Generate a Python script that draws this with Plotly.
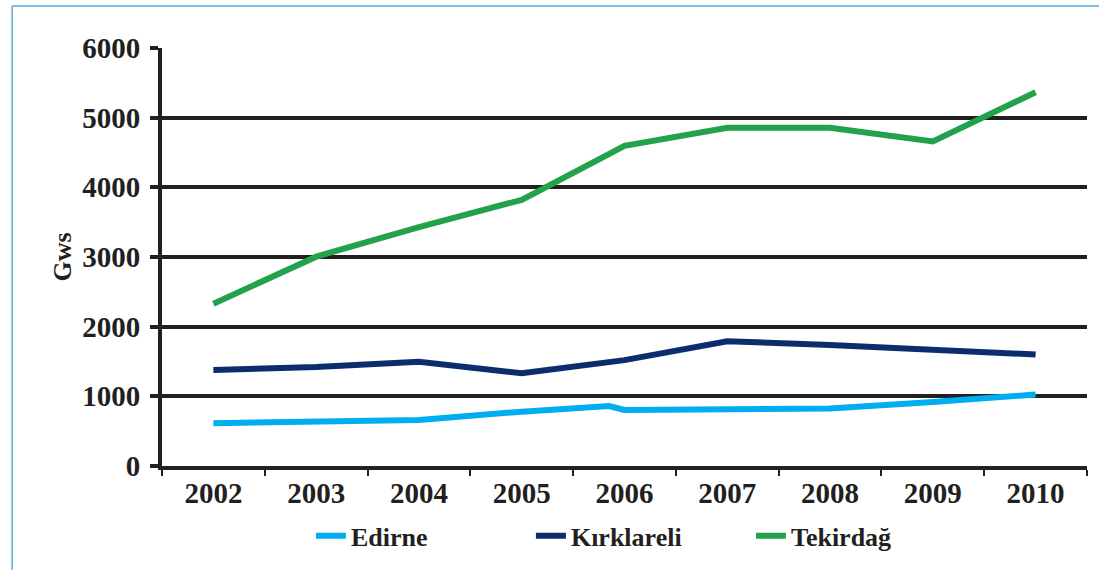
import plotly.graph_objects as go

# Annual values (Gws)
years = [2002, 2003, 2004, 2005, 2006, 2007, 2008, 2009, 2010]

# Edirne has a small bump just before 2006 in the source chart
edirne_x = [2002, 2003, 2004, 2005, 2005.85, 2006, 2007, 2008, 2009, 2010]
edirne = [615, 630, 660, 780, 860, 805, 815, 825, 920, 1025]

kirklareli = [1378, 1420, 1496, 1330, 1520, 1790, 1737, 1670, 1600]
tekirdag = [2330, 3005, 3430, 3820, 4596, 4855, 4855, 4660, 5365]

y_ticks = [0, 1000, 2000, 3000, 4000, 5000, 6000]

INK = "#231F20"
FONT = dict(family="Liberation Serif, Times New Roman, serif", color=INK, weight="bold")

fig = go.Figure()

fig.add_trace(go.Scatter(
    x=edirne_x, y=edirne, name="Edirne", mode="lines",
    line=dict(color="#00AEEF", width=6)
))
fig.add_trace(go.Scatter(
    x=years, y=kirklareli, name="Kırklareli", mode="lines",
    line=dict(color="#0A2D6E", width=6)
))
fig.add_trace(go.Scatter(
    x=years, y=tekirdag, name="Tekirdağ", mode="lines",
    line=dict(color="#22A24A", width=6)
))

# category boundaries for the small x ticks
boundaries = [y - 0.5 for y in years] + [years[-1] + 0.5]

fig.update_xaxes(
    range=[years[0] - 0.5, years[-1] + 0.5],
    tickmode="array", tickvals=years, ticktext=[str(y) for y in years],
    ticks="", showgrid=False, zeroline=False,
    showline=True, linewidth=4, linecolor=INK,
    tickfont=dict(size=29, **FONT), ticklabelstandoff=-2,
    minor=dict(tickmode="array", tickvals=boundaries, ticks="outside",
               ticklen=6, tickwidth=2, tickcolor=INK, showgrid=False),
)

fig.update_yaxes(
    range=[0, 6000], tickmode="array", tickvals=y_ticks,
    ticks="outside", ticklen=8, tickwidth=4, tickcolor=INK,
    showgrid=True, gridcolor=INK, gridwidth=4, zeroline=False,
    showline=True, linewidth=4, linecolor=INK,
    tickfont=dict(size=29, **FONT), ticklabelstandoff=4,
    title=dict(text="Gws", font=dict(size=26, **FONT), standoff=4),
)

# light blue frame (top and left edges only are visible)
frame = "#5BA9DB"
fig.add_shape(type="line", xref="paper", yref="paper",
              x0=-0.162, x1=1.05, y0=1.1005, y1=1.1005,
              line=dict(color=frame, width=1.5))
fig.add_shape(type="line", xref="paper", yref="paper",
              x0=-0.162, x1=-0.162, y0=-0.4, y1=1.1005,
              line=dict(color=frame, width=1.5))

fig.update_layout(
    width=1099, height=570,
    margin=dict(l=162, r=12, t=48, b=104, autoexpand=False),
    plot_bgcolor="white", paper_bgcolor="white",
    showlegend=True,
    legend=dict(
        orientation="h", x=0.161, xanchor="left", y=-0.167, yanchor="middle",
        font=dict(size=26, **FONT), entrywidth=175, itemwidth=30,
        bgcolor="rgba(0,0,0,0)",
    ),
)

# drop the browser's default body margin so the figure sits at the page origin
fig.write_html("out.html", config={"displayModeBar": False},
               post_script="document.body.style.margin='0';")
